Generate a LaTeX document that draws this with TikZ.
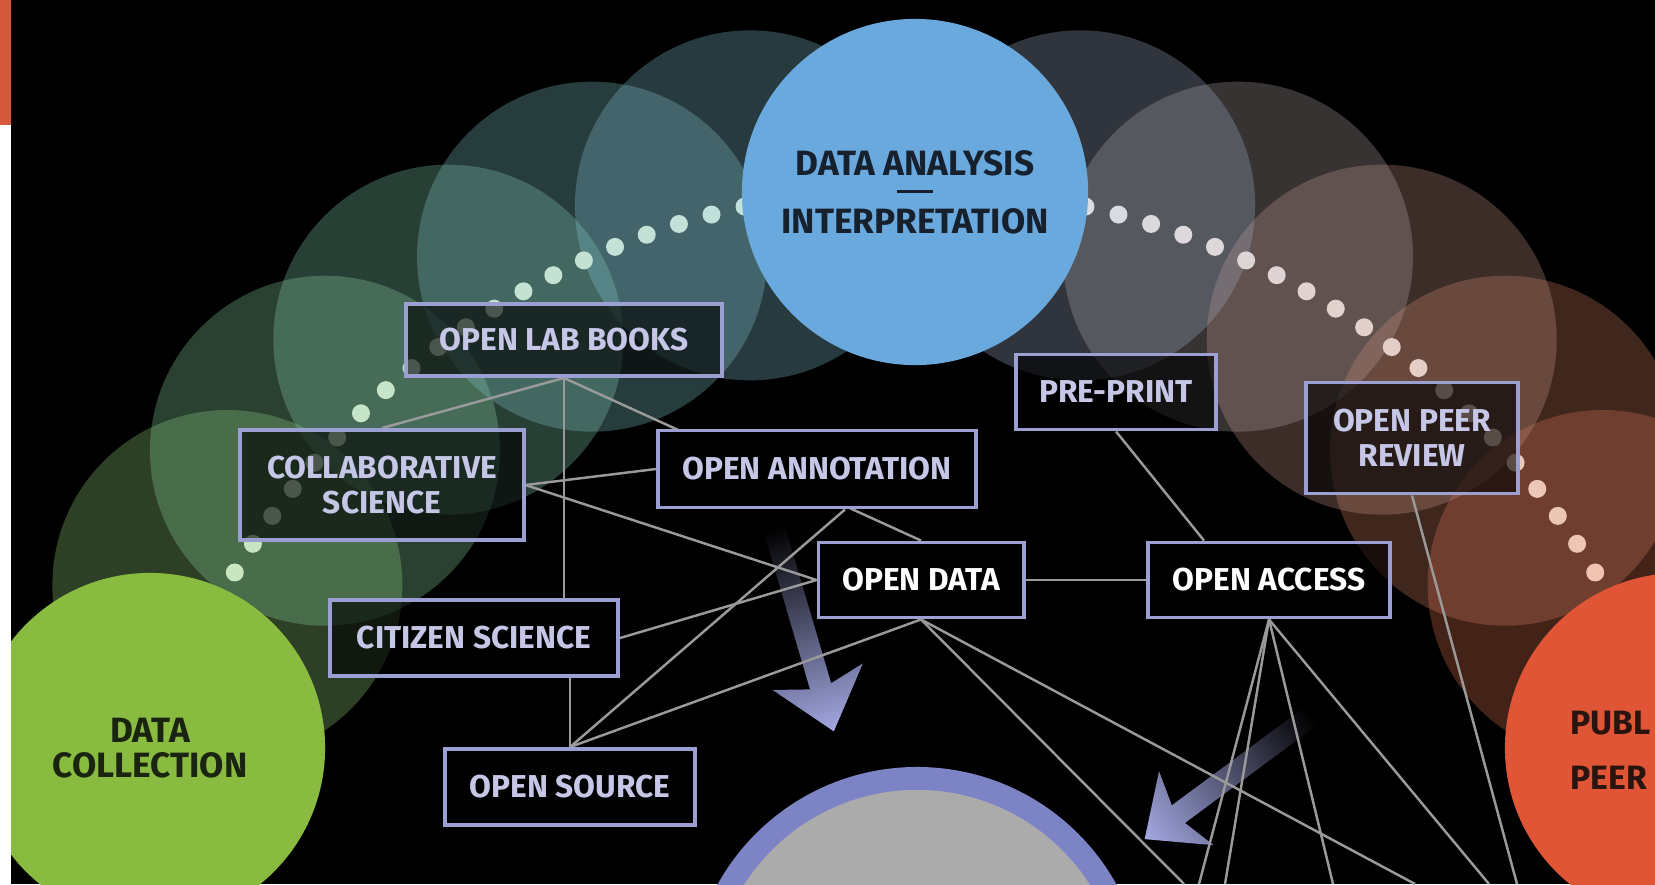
\documentclass[tikz,border=0pt]{standalone}
\usepackage{fontspec}
\setmainfont{Fira Sans}
\usetikzlibrary{calc}

\definecolor{barred}{HTML}{D55A3C}
\definecolor{analysisblue}{HTML}{6AA9DD}
\definecolor{collectgreen}{HTML}{88BB40}
\definecolor{publishred}{HTML}{E05535}
\definecolor{frameblue}{HTML}{9C9FD2}
\definecolor{labeltext}{HTML}{C6C7E7}
\definecolor{ringblue}{HTML}{7D84C6}
\definecolor{coregray}{HTML}{ABABAB}
\definecolor{linkgray}{HTML}{9A9A9A}
\definecolor{arrowlav}{HTML}{A3A8E2}
\definecolor{inkblue}{HTML}{17212E}
\definecolor{inkgreen}{HTML}{1A2410}
\definecolor{inkred}{HTML}{2A1410}
% faint circles, green side and red side
\definecolor{cL1}{HTML}{96D77D}
\definecolor{cL2}{HTML}{8CD7A0}
\definecolor{cL3}{HTML}{87D2B4}
\definecolor{cL4}{HTML}{82C8C8}
\definecolor{cL5}{HTML}{82C3D7}
\definecolor{cR5}{HTML}{A0AFC8}
\definecolor{cR4}{HTML}{B9AAAA}
\definecolor{cR3}{HTML}{C89687}
\definecolor{cR2}{HTML}{D78264}
\definecolor{cR1}{HTML}{E17350}
% dots
\definecolor{dotLlow}{HTML}{C8E6BE}
\definecolor{dotLtop}{HTML}{C2E0DC}
\definecolor{dotRtop}{HTML}{D8DCE4}
\definecolor{dotRlow}{HTML}{F0C2AC}

\pgfdeclarelayer{bg}
\pgfdeclarelayer{links}
\pgfsetlayers{bg,links,main}

\begin{document}
\begin{tikzpicture}[x=0.01cm, y=-0.01cm, % one unit = one pixel, y going down
	box/.style={draw=frameblue, line width=1.1pt, fill=black, fill opacity=.62, text opacity=1,
		text=labeltext, font=\bfseries\fontsize{9}{10}\selectfont, align=center, inner sep=0pt},
	link/.style={draw=linkgray, line width=.7pt},
	disc/.style={circle, inner sep=0pt, minimum size=3.5cm},
	bigtext/.style={font=\bfseries\fontsize{10}{10}\selectfont, align=center}]

	\useasboundingbox (0,0) rectangle (1655,884);

	\begin{pgfonlayer}{bg}
	\fill[white] (0,0) rectangle (11,884);
	\fill[barred] (0,0) rectangle (11,125);
	\fill[black] (11,0) rectangle (1655,884);
	\clip (11,0) rectangle (1655,884);
	% faint circles along the arc
	\foreach \a/\c in {150/cL1,138/cL2,126/cL3,114/cL4,102/cL5,30/cR1,42/cR2,54/cR3,66/cR4,78/cR5}
		\fill[\c, fill opacity=.3] ({915+794*cos(\a)},{982-794*sin(\a)}) circle[radius=175];
	% dotted path
	\foreach \k in {0,...,20}{
		\pgfmathsetmacro\a{102.4+2.45*\k}
		\pgfmathsetmacro\b{77.6-2.45*\k}
		\pgfmathtruncatemacro\t{100-5*\k}
		\fill[dotLtop!\t!dotLlow] ({915+794*cos(\a)},{982-794*sin(\a)}) circle[radius=9];
		\fill[dotRtop!\t!dotRlow] ({915+794*cos(\b)},{982-794*sin(\b)}) circle[radius=9];
	}
	\end{pgfonlayer}

	\begin{scope}
	\clip (11,0) rectangle (1655,884);
	\node[disc, fill=collectgreen, text=inkgreen, bigtext] (collect) at (150,748) {DATA\\COLLECTION};
	\node[disc, fill=analysisblue, text=inkblue, minimum size=3.46cm,
		font=\bfseries\fontsize{10}{8.25}\selectfont, align=center] (analysis) at (915,192)
		{DATA ANALYSIS\\\rule[3.2pt]{.36cm}{.9pt}\\INTERPRETATION};
	\node[disc, fill=publishred] (publish) at (1680,748) {};
	\node[anchor=west, inner sep=0pt, text=inkred, font=\bfseries\fontsize{9.6}{15.6}\selectfont, align=left] (publishlabel) at (1570,750) {PUBL\\PEER};
	\node[circle, inner sep=0pt, fill=coregray, draw=ringblue, line width=6.5pt, minimum size=4.33cm] (hub) at (917,995) {};

	% practices
	\node[box, minimum width=3.15cm, minimum height=.72cm] (labbooks) at (564,340) {OPEN LAB BOOKS};
	\node[box, minimum width=2.83cm, minimum height=1.1cm] (collab) at (382,485) {COLLABORATIVE\\SCIENCE};
	\node[box, minimum width=3.18cm, minimum height=.77cm, fill opacity=1] (annotation) at (817,469) {OPEN ANNOTATION};
	\node[box, minimum width=2.05cm, minimum height=.75cm, text=white] (opendata) at (921,580) {OPEN DATA};
	\node[box, minimum width=2.42cm, minimum height=.75cm, text=white] (openaccess) at (1269,580) {OPEN ACCESS};
	\node[box, minimum width=2.88cm, minimum height=.76cm] (citizen) at (474,638) {CITIZEN SCIENCE};
	\node[box, minimum width=2.5cm, minimum height=.76cm] (opensource) at (570,787) {OPEN SOURCE};
	\node[box, minimum width=2cm, minimum height=.75cm] (preprint) at (1116,392) {PRE-PRINT};
	\node[box, minimum width=2.12cm, minimum height=1.11cm] (peerreview) at (1412,438) {OPEN PEER\\REVIEW};
	\end{scope}

	% loose ends below the frame
	\coordinate (od1) at (1184,884);
	\coordinate (od2) at (1415,884);
	\coordinate (oa1) at (1199,884);
	\coordinate (oa2) at (1225,884);
	\coordinate (oa3) at (1333,884);
	\coordinate (oa4) at (1489,884);
	\coordinate (pr1) at (1517,884);

	\begin{pgfonlayer}{links}
	\clip (11,0) rectangle (1655,884);
	% fading arrows
	\begin{scope}[transform canvas={shift={(774,528)}, rotate=-73.6}]
		\shade[left color=black, right color=arrowlav] (0,11) -- (165,11) -- (155,47) -- (212,0)
			-- (155,-47) -- (165,-11) -- (0,-11) -- cycle;
	\end{scope}
	\begin{scope}[transform canvas={shift={(1311,716)}, rotate=-143.5}]
		\shade[left color=black, right color=arrowlav] (0,11) -- (165,11) -- (155,46) -- (207,0)
			-- (155,-46) -- (165,-11) -- (0,-11) -- cycle;
	\end{scope}
	\draw[link] (labbooks.south) -- (collab.north);
	\draw[link] (labbooks.south) -- (labbooks.south |- citizen.north);
	\draw[link] (labbooks.south) -- (opendata.north);
	\draw[link] (collab.east) -- (annotation.west);
	\draw[link] (collab.east) -- (opendata.west);
	\draw[link] (citizen.east) -- (opendata.west);
	\draw[link] (opensource.north |- citizen.south) -- (opensource.north);
	\draw[link] (opensource.north) -- ($(annotation.south)+(28,0)$);
	\draw[link] (opensource.north) -- (opendata.south);
	\draw[link] (opendata.east) -- (openaccess.west);
	\draw[link] (preprint.south) -- ($(openaccess.north west)+(58,0)$);
	\draw[link] (opendata.south) -- (od1);
	\draw[link] (opendata.south) -- (od2);
	\foreach \e in {oa1,oa2,oa3,oa4}
		\draw[link] (openaccess.south) -- (\e);
	\draw[link] (peerreview.south) -- (pr1);
	\end{pgfonlayer}
\end{tikzpicture}
\end{document}
